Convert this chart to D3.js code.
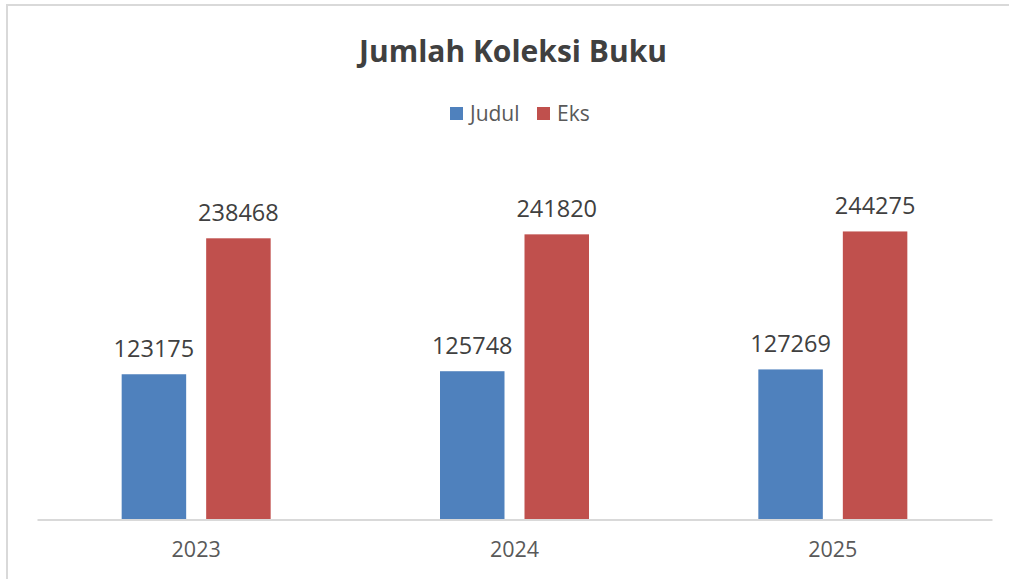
<!DOCTYPE html>
<html>
<head>
<meta charset="utf-8">
<script src="https://cdn.jsdelivr.net/npm/d3@7"></script>
<style>
  html, body { margin: 0; padding: 0; background: #fff; }
  svg { display: block; }
</style>
</head>
<body>
<script>
const categories = ["2023", "2024", "2025"];
const seriesNames = ["Judul", "Eks"];
const judulValues = [123175, 125748, 127269];
const eksValues = [238468, 241820, 244275];
const colors = ["#4F81BD", "#C0504D"];

const W = 1009, H = 579;
const font = "'Open Sans', 'Noto Sans', sans-serif";
const svg = d3.select("body").append("svg").attr("width", W).attr("height", H);

svg.append("rect").attr("x", 7).attr("y", 5).attr("width", W + 10).attr("height", H + 10)
  .attr("fill", "#fff").attr("stroke", "#d9d9d9").attr("stroke-width", 2);

const plot = { left: 37, right: 992, top: 224.7, bottom: 519.5 };

const x0 = d3.scaleBand().domain(categories).range([plot.left, plot.right]).padding(0);
const half = 74.5;
const x1 = d3.scaleBand().domain(seriesNames)
  .range([x0.bandwidth() / 2 - half, x0.bandwidth() / 2 + half])
  .paddingInner(20 / 84.5).paddingOuter(0);
const y = d3.scaleLinear().domain([0, 250000]).range([plot.bottom, plot.top]);

const data = categories.map((c, i) => ({ cat: c, vals: [judulValues[i], eksValues[i]] }));

// bars
const g = svg.append("g");
const groups = g.selectAll("g.cat").data(data).join("g")
  .attr("class", "cat")
  .attr("transform", d => `translate(${x0(d.cat)},0)`);

groups.selectAll("rect").data(d => d.vals.map((v, j) => ({ s: seriesNames[j], v, j }))).join("rect")
  .attr("x", d => x1(d.s)).attr("y", d => y(d.v))
  .attr("width", x1.bandwidth()).attr("height", d => y(0) - y(d.v))
  .attr("fill", d => colors[d.j]);

groups.selectAll("text").data(d => d.vals.map((v, j) => ({ s: seriesNames[j], v, j }))).join("text")
  .attr("x", d => x1(d.s) + x1.bandwidth() / 2).attr("y", d => y(d.v) - 17)
  .attr("text-anchor", "middle")
  .attr("font-family", font).attr("font-size", 23.5)
  .attr("fill", "#404040")
  .text(d => d.v);

// x axis
const xAxis = d3.axisBottom(x0).tickSize(0).tickPadding(22);
const ax = svg.append("g").attr("transform", `translate(0,${plot.bottom})`).call(xAxis);
ax.select(".domain").attr("stroke", "#d9d9d9").attr("stroke-width", 2);
ax.selectAll("text").attr("font-family", font).attr("font-size", 21.5).attr("fill", "#595959");

// title
svg.append("text").attr("x", 513).attr("y", 62).attr("text-anchor", "middle")
  .attr("font-family", font).attr("font-weight", "bold").attr("font-size", 30)
  .attr("fill", "#404040").text("Jumlah Koleksi Buku");

// legend
const legend = svg.append("g");
const legItems = [{ name: "Judul", x: 450 }, { name: "Eks", x: 537 }];
legItems.forEach((it, i) => {
  legend.append("rect").attr("x", it.x).attr("y", 107).attr("width", 13).attr("height", 13).attr("fill", colors[i]);
  legend.append("text").attr("x", it.x + 20).attr("y", 121)
    .attr("font-family", font).attr("font-size", 21).attr("fill", "#595959").text(it.name);
});
</script>
</body>
</html>
